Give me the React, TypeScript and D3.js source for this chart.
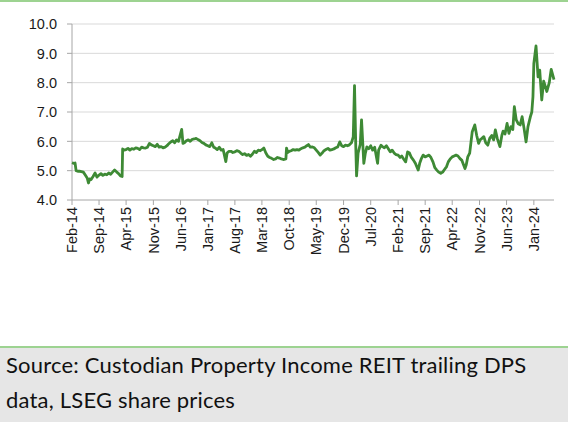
import React from "react";
import * as d3 from "d3";

const dates: string[] = [
  "2014-02-01","2014-02-16","2014-02-25","2014-03-05","2014-03-18","2014-04-01","2014-04-16","2014-05-01","2014-05-16","2014-06-01",
  "2014-06-10","2014-06-20","2014-07-01","2014-07-16","2014-08-01","2014-08-16","2014-09-01","2014-09-16","2014-10-01","2014-10-16",
  "2014-11-01","2014-11-16","2014-12-01","2014-12-16","2015-01-01","2015-01-16","2015-02-01","2015-02-16","2015-03-01","2015-03-05",
  "2015-03-16","2015-04-01","2015-04-16","2015-05-01","2015-05-16","2015-06-01","2015-06-16","2015-07-01","2015-07-16","2015-08-01",
  "2015-08-16","2015-09-01","2015-09-16","2015-10-01","2015-10-16","2015-11-01","2015-11-16","2015-12-01","2015-12-16","2016-01-01",
  "2016-01-16","2016-02-01","2016-02-16","2016-03-01","2016-03-16","2016-04-01","2016-04-16","2016-05-01","2016-05-16","2016-06-10",
  "2016-06-20","2016-07-01","2016-07-16","2016-08-01","2016-08-16","2016-09-01","2016-09-16","2016-10-01","2016-10-16","2016-11-01",
  "2016-11-16","2016-12-01","2016-12-16","2017-01-01","2017-01-16","2017-02-01","2017-02-16","2017-03-01","2017-03-16","2017-04-01",
  "2017-04-16","2017-05-01","2017-05-22","2017-06-01","2017-06-16","2017-07-01","2017-07-16","2017-08-01","2017-08-16","2017-09-01",
  "2017-09-16","2017-10-01","2017-10-16","2017-11-01","2017-11-16","2017-12-01","2017-12-16","2018-01-01","2018-01-16","2018-02-01",
  "2018-02-16","2018-03-01","2018-03-16","2018-04-01","2018-04-16","2018-05-01","2018-05-16","2018-06-01","2018-06-16","2018-07-01",
  "2018-07-16","2018-08-01","2018-08-16","2018-09-05","2018-09-10","2018-09-20","2018-10-01","2018-10-16","2018-11-01","2018-11-16",
  "2018-12-01","2018-12-16","2019-01-01","2019-01-16","2019-02-01","2019-02-16","2019-03-01","2019-03-16","2019-04-01","2019-04-16",
  "2019-05-01","2019-05-16","2019-06-01","2019-06-16","2019-07-01","2019-07-16","2019-08-01","2019-08-16","2019-09-01","2019-09-16",
  "2019-10-01","2019-10-16","2019-11-01","2019-11-16","2019-12-01","2019-12-16","2020-01-01","2020-01-16","2020-02-01","2020-02-15",
  "2020-02-25","2020-03-06","2020-03-12","2020-03-24","2020-04-10","2020-04-20","2020-05-08","2020-05-20","2020-06-01","2020-06-16",
  "2020-07-01","2020-07-16","2020-08-01","2020-08-24","2020-09-01","2020-09-20","2020-10-01","2020-10-16","2020-11-01","2020-11-16",
  "2020-12-01","2020-12-16","2021-01-01","2021-01-16","2021-02-01","2021-02-16","2021-03-01","2021-03-16","2021-04-01","2021-04-16",
  "2021-05-01","2021-05-16","2021-06-01","2021-06-16","2021-07-08","2021-07-20","2021-08-01","2021-08-16","2021-09-01","2021-09-16",
  "2021-10-01","2021-10-16","2021-11-01","2021-11-16","2021-12-01","2021-12-16","2022-01-01","2022-01-16","2022-02-01","2022-02-16",
  "2022-03-01","2022-03-16","2022-04-01","2022-04-16","2022-05-01","2022-05-16","2022-06-01","2022-06-16","2022-07-10","2022-07-20",
  "2022-08-01","2022-08-16","2022-09-05","2022-09-25","2022-10-10","2022-10-25","2022-11-05","2022-11-20","2022-12-05","2022-12-20",
  "2023-01-05","2023-01-20","2023-02-05","2023-02-20","2023-03-05","2023-03-20","2023-04-10","2023-04-25","2023-05-05","2023-05-20",
  "2023-06-05","2023-06-20","2023-07-05","2023-07-20","2023-08-01","2023-08-16","2023-09-01","2023-09-16","2023-10-01","2023-10-16",
  "2023-11-01","2023-11-16","2023-12-05","2023-12-16","2023-12-25","2024-01-01","2024-01-18","2024-02-03","2024-02-16","2024-03-03",
  "2024-03-18","2024-04-12","2024-05-01","2024-05-16","2024-06-07",
];

const values: number[] = [
  5.27,5.25,5.26,5.00,4.98,4.98,4.97,4.95,4.85,4.74,
  4.58,4.72,4.70,4.80,4.92,4.78,4.85,4.90,4.84,4.88,
  4.86,4.92,4.88,4.95,5.02,4.96,4.90,4.82,4.80,5.74,
  5.70,5.72,5.76,5.70,5.75,5.73,5.78,5.76,5.72,5.80,
  5.78,5.77,5.80,5.93,5.88,5.85,5.82,5.90,5.80,5.82,
  5.78,5.80,5.85,5.92,5.98,6.02,5.95,6.05,6.00,6.41,
  5.93,5.95,6.02,6.05,6.00,6.07,6.08,6.10,6.06,6.02,
  5.96,5.93,5.88,5.85,5.82,5.95,5.80,5.77,5.72,5.80,
  5.70,5.72,5.31,5.60,5.66,5.66,5.62,5.64,5.68,5.66,
  5.60,5.55,5.58,5.52,5.55,5.49,5.56,5.66,5.62,5.70,
  5.68,5.72,5.77,5.60,5.49,5.45,5.42,5.38,5.40,5.45,
  5.43,5.40,5.38,5.40,5.77,5.62,5.66,5.68,5.72,5.70,
  5.72,5.70,5.75,5.78,5.80,5.85,5.89,5.80,5.81,5.78,
  5.70,5.62,5.53,5.60,5.68,5.72,5.76,5.70,5.72,5.74,
  5.78,5.81,5.98,5.85,5.82,5.87,5.85,5.88,5.95,6.15,
  7.90,5.81,4.82,5.60,5.90,6.73,5.25,5.60,5.81,5.75,
  5.85,5.70,5.80,5.25,5.70,5.87,5.82,5.78,5.85,5.75,
  5.64,5.70,5.60,5.55,5.53,5.45,5.50,5.40,5.30,5.64,
  5.60,5.45,5.36,5.25,5.02,5.25,5.40,5.53,5.47,5.50,
  5.53,5.45,5.30,5.10,5.02,4.95,4.91,4.95,5.05,5.14,
  5.30,5.40,5.47,5.50,5.53,5.50,5.41,5.35,5.07,5.20,
  5.47,5.60,6.33,6.56,6.20,5.93,6.05,6.10,6.16,5.95,
  5.87,6.10,6.20,6.05,6.39,6.10,5.82,6.20,6.35,6.25,
  6.61,6.27,6.50,6.40,7.18,6.73,6.60,6.56,6.84,6.45,
  5.98,6.50,6.84,7.00,7.52,8.66,9.25,8.20,8.43,7.41,
  8.05,7.70,8.00,8.45,8.10,
];

const yTicks: number[] = [4, 5, 6, 7, 8, 9, 10];
const xTickLabels: string[] = [
  "Feb-14","Sep-14","Apr-15","Nov-15","Jun-16","Jan-17","Aug-17","Mar-18","Oct-18",
  "May-19","Dec-19","Jul-20","Feb-21","Sep-21","Apr-22","Nov-22","Jun-23","Jan-24",
];
const sourceLines: string[] = [
  "Source: Custodian Property Income REIT trailing DPS",
  "data, LSEG share prices",
];

const W = 568;
const H = 422;
const M = { left: 72, right: 554, top: 24, bottom: 200 };
const AXIS_FONT = "'Liberation Sans', Arial, sans-serif";

export default function App() {
  const parse = d3.timeParse("%Y-%m-%d");
  const parseTick = d3.timeParse("%b-%y");
  const data = dates.map((d, i) => ({ date: parse(d) as Date, value: values[i] }));

  const x = d3
    .scaleTime()
    .domain([data[0].date, data[data.length - 1].date])
    .range([M.left, M.right]);
  const y = d3.scaleLinear().domain([4, 10]).range([M.bottom, M.top]);

  const line = d3
    .line<{ date: Date; value: number }>()
    .x((d) => x(d.date))
    .y((d) => y(d.value));

  const ticks = xTickLabels.map((lab) => ({ lab, date: parseTick(lab) as Date }));

  return (
    <svg
      width={W}
      height={H}
      style={{ position: "absolute", left: 0, top: 0, background: "#fff" }}
    >
      <rect x={0} y={0} width={W} height={H} fill="#ffffff" />
      <line x1={0} x2={W} y1={1} y2={1} stroke="#7cc46c" strokeWidth={1.5} />

      {/* gridlines */}
      {yTicks
        .filter((t) => t > 4)
        .map((t) => (
          <line
            key={"g" + t}
            x1={M.left}
            x2={M.right}
            y1={y(t)}
            y2={y(t)}
            stroke="#d9d9d9"
            strokeWidth={1}
          />
        ))}

      {/* y axis */}
      <line x1={M.left} x2={M.left} y1={M.top} y2={M.bottom} stroke="#a6a6a6" strokeWidth={1} />
      {yTicks.map((t) => (
        <g key={"y" + t}>
          <line x1={M.left - 5} x2={M.left} y1={y(t)} y2={y(t)} stroke="#a6a6a6" />
          <text
            x={57}
            y={y(t)}
            dy="0.36em"
            textAnchor="end"
            fontFamily={AXIS_FONT}
            fontSize={14.5}
            fill="#1a1a1a"
          >
            {d3.format(".1f")(t)}
          </text>
        </g>
      ))}

      {/* x axis */}
      <line x1={M.left} x2={M.right} y1={M.bottom} y2={M.bottom} stroke="#a6a6a6" strokeWidth={1} />
      {ticks.map((t) => {
        const px = x(t.date);
        return (
          <g key={t.lab}>
            <line x1={px} x2={px} y1={M.bottom} y2={M.bottom + 5} stroke="#a6a6a6" />
            <text
              transform={`translate(${px},${M.bottom + 7}) rotate(-90)`}
              dy="0.36em"
              textAnchor="end"
              fontFamily={AXIS_FONT}
              fontSize={14.5}
              fill="#1a1a1a"
            >
              {t.lab}
            </text>
          </g>
        );
      })}

      {/* series */}
      <path
        d={line(data) || ""}
        fill="none"
        stroke="#3e8a35"
        strokeWidth={2.8}
        strokeLinejoin="round"
      />

      {/* footer */}
      <line x1={0} x2={W} y1={347} y2={347} stroke="#7cc46c" strokeWidth={1.5} />
      <rect x={0} y={348} width={W} height={H - 348} fill="#e6e6e6" />
      {sourceLines.map((s, i) => (
        <text
          key={i}
          x={6}
          y={373 + i * 35}
          fontFamily="Lato, sans-serif"
          fontSize={22}
          letterSpacing={0.2}
          fill="#111"
        >
          {s}
        </text>
      ))}
    </svg>
  );
}
